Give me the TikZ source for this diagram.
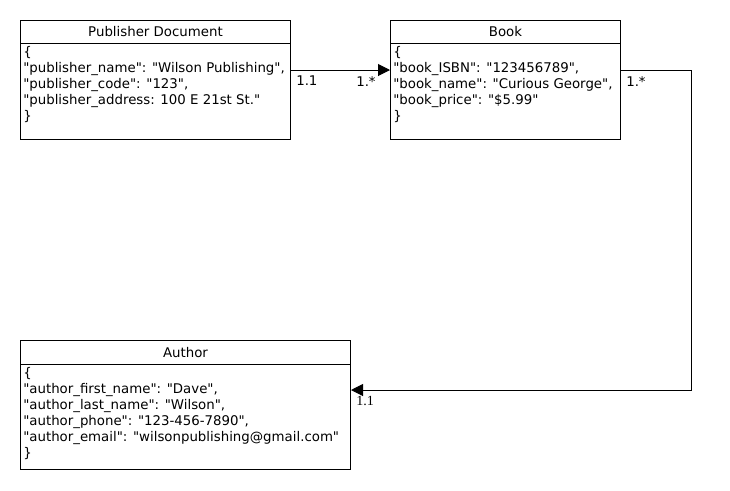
\documentclass[tikz,border=0pt]{standalone}
\usepackage{fontspec}
\setmainfont{DejaVu Sans}[Ligatures=TeXOff]
\newfontfamily\serifmark{Liberation Serif}
\usetikzlibrary{arrows.meta,calc}
\begin{document}
\begin{tikzpicture}[x=0.75pt,y=-0.75pt,
  hdr/.style={draw=black,line width=0.75pt,anchor=north west,inner sep=0pt,font=\fontsize{10}{11}\selectfont},
  bodybox/.style={draw=black,line width=0.75pt,anchor=north west,inner sep=0pt},
  bodytext/.style={anchor=north west,inner sep=0pt,align=left,font=\fontsize{10}{12}\selectfont},
  mult/.style={anchor=north west,inner sep=0pt,font=\fontsize{10}{11}\selectfont},
  link/.style={line width=0.75pt,-{Triangle[length=9pt,width=9pt]}}]
\useasboundingbox (0,0) rectangle (730,490);
% Publisher
\node[hdr,minimum width=270*0.75pt,minimum height=23*0.75pt] (pubh) at (20,20) {Publisher Document};
\node[bodybox,minimum width=270*0.75pt,minimum height=96*0.75pt] (pub) at (20,43) {};
\node[bodytext] (pubt) at (23,46) {\{\\"publisher\_name": "Wilson Publishing",\\"publisher\_code": "123",\\"publisher\_address: 100 E 21st St."\\\}};
% Book
\node[hdr,minimum width=230*0.75pt,minimum height=23*0.75pt] (bookh) at (390,20) {Book};
\node[bodybox,minimum width=230*0.75pt,minimum height=96*0.75pt] (book) at (390,43) {};
\node[bodytext] (bookt) at (393,46) {\{\\"book\_ISBN": "123456789",\\"book\_name": "Curious George",\\"book\_price": "\$5.99"\\\}};
% Author
\node[hdr,minimum width=330*0.75pt,minimum height=24*0.75pt] (authh) at (20,340) {Author};
\node[bodybox,minimum width=330*0.75pt,minimum height=105*0.75pt] (auth) at (20,364) {};
\node[bodytext] (autht) at (23,367) {\{\\"author\_first\_name": "Dave",\\"author\_last\_name": "Wilson",\\"author\_phone": "123-456-7890",\\"author\_email": "wilsonpublishing@gmail.com"\\\}};
% connectors
\draw[link] ($(pub.north east)+(0,27)$) -- ($(book.north west)+(0,27)$);
\coordinate (bend1) at ($(book.north east)+(70,27)$);
\draw[link] ($(book.north east)+(0,27)$) -- (bend1) |- ($(auth.north east)+(0,26)$);
% multiplicities
\node[mult] (m1) at (296,76) {1.1};
\node[mult] (m2) at (356,76) {1.*};
\node[mult] (m3) at (626,76) {1.*};
\node[mult,font=\serifmark\fontsize{10.5}{11}\selectfont] (m4) at (356,396) {1.1};
\end{tikzpicture}
\end{document}
